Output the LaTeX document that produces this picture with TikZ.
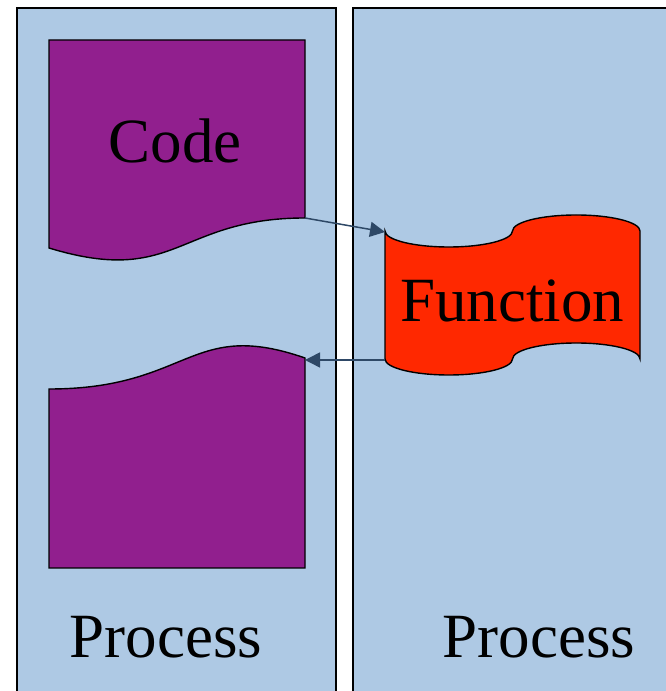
\documentclass[tikz,border=0pt]{standalone}
\usepackage{fontspec}
\setmainfont{Liberation Serif}
\usetikzlibrary{arrows.meta}
\definecolor{panelblue}{RGB}{174,201,228}
\definecolor{docpurple}{RGB}{145,31,142}
\definecolor{tapered}{RGB}{255,40,0}
\definecolor{linkblue}{RGB}{46,72,102}
\tikzset{
  panel/.style={fill=panelblue, draw=black, line width=2pt},
  docshape/.style={fill=docpurple, draw=black, line width=1.4pt},
  tapeshape/.style={fill=tapered, draw=black, line width=1.4pt},
  bigtext/.style={font=\fontsize{63}{70}\selectfont, inner sep=0pt, anchor=base},
  link/.style={draw=linkblue, line width=1.5pt, -{Triangle[length=15pt,width=15pt]}}
}
\begin{document}
\begin{tikzpicture}[x=1pt,y=1pt]
  \useasboundingbox (0,0) rectangle (666,691);
  \fill[white] (0,0) rectangle (666,691);
  \clip (0,0) rectangle (666,691);

  % two process panels
  \draw[panel] (17,-10) rectangle (336,683);
  \draw[panel] (353,-10) rectangle (690,683);

  % code document (wavy bottom edge)
  \draw[docshape] (49,651) -- (305,651) -- (305,473)
    .. controls (177,473) and (177,404) .. (49,443) -- cycle;
  \coordinate (codeout) at (305,473);

  % returned document (wavy top edge)
  \draw[docshape] (49,123) -- (305,123) -- (305,333)
    .. controls (190,373) and (190,302) .. (49,302) -- cycle;
  \coordinate (retin) at (305,331);

  % function as punched tape
  \draw[tapeshape] (385,460)
    arc[start angle=180, end angle=360, x radius=63.75, y radius=16]
    arc[start angle=180, end angle=0, x radius=63.75, y radius=16]
    -- (640,332)
    arc[start angle=0, end angle=180, x radius=63.75, y radius=16]
    arc[start angle=0, end angle=-180, x radius=63.75, y radius=16]
    -- cycle;
  \coordinate (funcin) at (385,459);
  \coordinate (funcout) at (385,331);

  % labels
  \node[bigtext] (code) at (175,528) {Code};
  \node[bigtext] (func) at (512,369) {Function};
  \node[bigtext] (procl) at (166,34) {Process};
  \node[bigtext] (procr) at (539,34) {Process};

  % call and return
  \draw[link] (codeout) -- (funcin);
  \draw[link] (funcout) -- (retin);
\end{tikzpicture}
\end{document}
